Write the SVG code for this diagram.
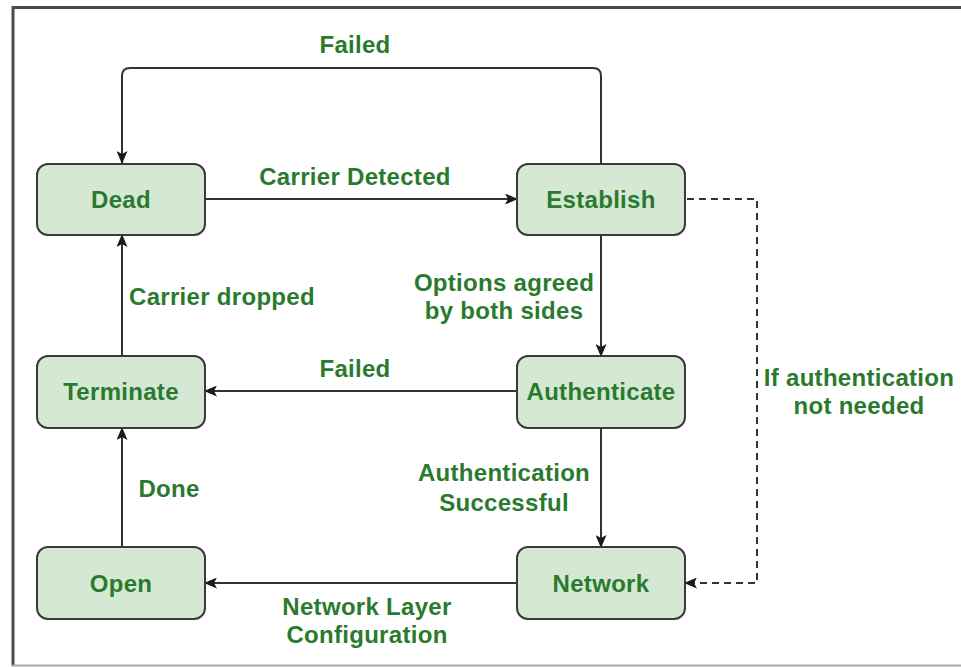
<svg xmlns="http://www.w3.org/2000/svg" width="961" height="667" viewBox="0 0 961 667">
  <style>
    .node rect { fill: #d5e8d4; stroke: #3a3a3a; stroke-width: 2; }
    .node text, .lbl { font-family: "Liberation Sans", Arial, sans-serif; font-weight: bold; font-size: 24px; letter-spacing: 0.3px; fill: #2a7a2e; text-anchor: middle; }
    .edge { fill: none; stroke: #333333; stroke-width: 2; }
    .dash { stroke-dasharray: 7 5; }
  </style>
  <defs>
    <marker id="arrow" viewBox="0 0 13 11" refX="12" refY="5.5" markerWidth="13" markerHeight="11" markerUnits="userSpaceOnUse" orient="auto">
      <path d="M0,0 L13,5.5 L0,11 L3,5.5 Z" fill="#1a1a1a"/>
    </marker>
  </defs>

  <rect width="961" height="667" fill="#ffffff"/>

  <!-- outer frame -->
  <g id="frame">
    <line x1="13" y1="7.5" x2="961" y2="7.5" stroke="#4a4a4a" stroke-width="3"/>
    <line x1="13" y1="6" x2="13" y2="666" stroke="#4a4a4a" stroke-width="3"/>
    <line x1="12" y1="665.5" x2="961" y2="665.5" stroke="#a8a8a8" stroke-width="2"/>
  </g>

  <!-- connectors -->
  <g id="connectors">
    <path class="edge" d="M601,163 V76 Q601,68 593,68 H130 Q122,68 122,76 V163" marker-end="url(#arrow)"/>
    <path class="edge" d="M205,199 H517" marker-end="url(#arrow)"/>
    <path class="edge" d="M601,235 V356" marker-end="url(#arrow)"/>
    <path class="edge" d="M517,391 H205" marker-end="url(#arrow)"/>
    <path class="edge" d="M122,356 V235" marker-end="url(#arrow)"/>
    <path class="edge" d="M601,428 V547" marker-end="url(#arrow)"/>
    <path class="edge" d="M122,547 V428" marker-end="url(#arrow)"/>
    <path class="edge" d="M517,583 H205" marker-end="url(#arrow)"/>
    <path class="edge dash" d="M687,199 H757 V583 H685" marker-end="url(#arrow)"/>
  </g>

  <!-- connector labels -->
  <g id="labels">
    <text class="lbl" x="355" y="53">Failed</text>
    <text class="lbl" x="355" y="185">Carrier Detected</text>
    <text class="lbl" x="504" y="291">Options agreed</text>
    <text class="lbl" x="504" y="319">by both sides</text>
    <text class="lbl" x="222" y="305">Carrier dropped</text>
    <text class="lbl" x="355" y="377">Failed</text>
    <text class="lbl" x="859" y="386">If authentication</text>
    <text class="lbl" x="859" y="414">not needed</text>
    <text class="lbl" x="504" y="481">Authentication</text>
    <text class="lbl" x="504" y="511">Successful</text>
    <text class="lbl" x="169" y="497">Done</text>
    <text class="lbl" x="367" y="615">Network Layer</text>
    <text class="lbl" x="367" y="643">Configuration</text>
  </g>

  <!-- states -->
  <g id="dead" class="node">
    <rect x="37" y="164" width="168" height="71" rx="11"/>
    <text x="121" y="208">Dead</text>
  </g>
  <g id="establish" class="node">
    <rect x="517" y="164" width="168" height="71" rx="11"/>
    <text x="601" y="208">Establish</text>
  </g>
  <g id="terminate" class="node">
    <rect x="37" y="356" width="168" height="72" rx="11"/>
    <text x="121" y="400">Terminate</text>
  </g>
  <g id="authenticate" class="node">
    <rect x="517" y="356" width="168" height="72" rx="11"/>
    <text x="601" y="400">Authenticate</text>
  </g>
  <g id="open" class="node">
    <rect x="37" y="547" width="168" height="72" rx="11"/>
    <text x="121" y="592">Open</text>
  </g>
  <g id="network" class="node">
    <rect x="517" y="547" width="168" height="72" rx="11"/>
    <text x="601" y="592">Network</text>
  </g>
</svg>
